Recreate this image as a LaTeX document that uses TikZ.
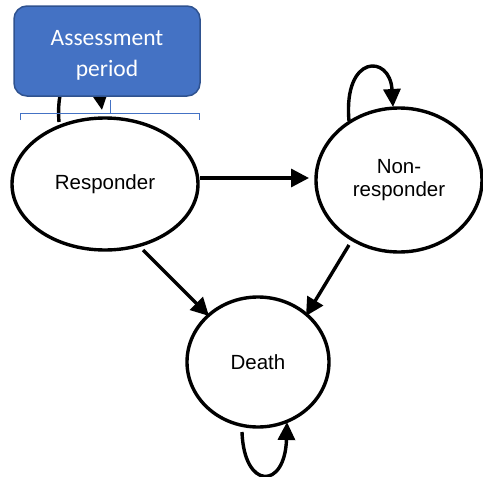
\documentclass[tikz,border=0pt]{standalone}
\usepackage{fontspec}
\setmainfont{Liberation Sans}
\newfontfamily\calib{Carlito}
\usetikzlibrary{arrows.meta}
\definecolor{boxfill}{HTML}{4472C4}
\definecolor{boxdraw}{HTML}{2F528F}
\definecolor{brk}{HTML}{4472C4}
\tikzset{
  state/.style={draw=black, line width=3.4pt, fill=white, ellipse, inner sep=0pt, font=\fontsize{20.5}{22.5}\selectfont, align=center},
  conn/.style={line width=3.4pt, -{Triangle[length=18pt,width=18pt]}},
  loopc/.style={line width=3.4pt, -{Triangle[length=18pt,width=17pt]}},
}
\usetikzlibrary{shapes.geometric}
\begin{document}
\begin{tikzpicture}[x=1pt,y=-1pt]
\useasboundingbox (0,0) rectangle (483,477);
% loops
\draw[loopc] (59,122) .. controls (54,60) and (95,60) .. (102,110);
\draw[loopc] (349,121) .. controls (343,54) and (390,54) .. (393,107);
\draw[loopc] (242,432) .. controls (244,490) and (285,490) .. (287,422);
% states
\node[state, minimum width=186pt, minimum height=132pt] (R) at (105,184) {Responder};
\node[state, minimum width=166pt, minimum height=144pt] (N) at (399,180) {Non-\\responder};
\node[state, minimum width=142pt, minimum height=130pt] (D) at (258,362) {Death};
% connectors
\draw[conn] (200,178) -- (309,178);
\draw[conn] (143,250) -- (209,316);
\draw[conn] (349,245) -- (306,316);
% bracket
\draw[brk, line width=0.8pt] (20,120) -- (20,113) -- (199,113) -- (199,120);
\draw[brk, line width=0.8pt] (110,113) -- (110,100);
% assessment box
\node[draw=boxdraw, line width=1.5pt, fill=boxfill, rounded corners=13pt, minimum width=186pt, minimum height=90pt] (A) at (107,51) {};
\node[text=white, font=\calib\fontsize{23.5}{31}\selectfont, align=center] (At) at (107,55) {Assessment\\period};
\end{tikzpicture}
\end{document}
